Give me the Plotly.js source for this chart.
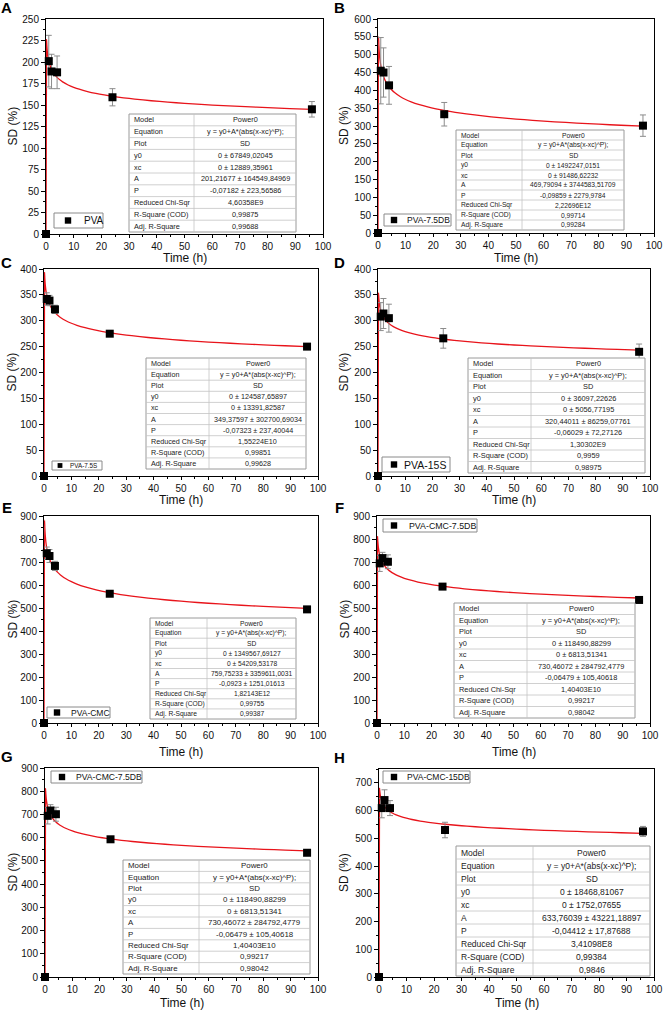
<!DOCTYPE html>
<html>
<head>
<meta charset="utf-8">
<script src="https://cdn.plot.ly/plotly-3.0.1.min.js"></script>
<style>html,body{margin:0;padding:0;background:#fff;}#chart{width:664px;height:1012px;}</style>
</head>
<body>
<div id="chart"></div>
<script>
// ---------------- DATA ----------------
const times = [0, 1, 2, 4, 24, 96];

const panelLetters = ["A", "B", "C", "D", "E", "F", "G", "H"];
const seriesNames = ["PVA", "PVA-7.5DB", "PVA-7.5S", "PVA-15S", "PVA-CMC", "PVA-CMC-7.5DB", "PVA-CMC-7.5DB", "PVA-CMC-15DB"];

const sdPVA = [0, 201, 189, 188, 159, 145];
const errPVA = [0, 30, 20, 19, 10, 9];
const sdPVA75DB = [0, 455, 450, 414, 333, 301];
const errPVA75DB = [0, 93, 69, 53, 33, 30];
const sdPVA75S = [0, 342, 339, 322, 275, 250];
const errPVA75S = [0, 12, 10, 8, 4, 4];
const sdPVA15S = [0, 308, 314, 305, 266, 240];
const errPVA15S = [0, 27, 29, 27, 19, 15];
const sdCMC = [0, 738, 726, 683, 562, 494];
const errCMC = [0, 27, 28, 20, 8, 5];
const sdCMC75DB = [0, 694, 717, 701, 593, 535];
const errCMC75DB = [0, 35, 25, 30, 12, 5];
const sdCMC15DB = [0, 609, 638, 609, 530, 525];
const errCMC15DB = [0, 35, 37, 27, 28, 18];

const sdSeries = [sdPVA, sdPVA75DB, sdPVA75S, sdPVA15S, sdCMC, sdCMC75DB, sdCMC75DB, sdCMC15DB];
const errSeries = [errPVA, errPVA75DB, errPVA75S, errPVA15S, errCMC, errCMC75DB, errCMC75DB, errCMC15DB];

// Power0 fit parameters from each panel's table (y0 = 0, xc = 0)
const fitA = [201.21677, 469.79094, 349.37597, 320.44011, 759.75233, 730.46072, 730.46072, 633.76039];
const fitP = [-0.07182, -0.09859, -0.07323, -0.06029, -0.0923, -0.06479, -0.06479, -0.04412];
const fitTimes = [0, 0.2, 0.3, 0.45, 0.7, 1, 1.5, 2, 3, 4, 5, 6, 8, 10, 12, 15, 18, 21, 24, 28, 32, 38, 44, 50, 56, 64, 72, 80, 88, 96];

const yMax = [250, 600, 400, 400, 900, 900, 900, 750];
const yStep = [25, 50, 50, 50, 100, 100, 100, 100];

const tableLabels = ["Model", "Equation", "Plot", "y0", "xc", "A", "P", "Reduced Chi-Sqr", "R-Square (COD)", "Adj. R-Square"];
const tableValues = [
  ["Power0", "y = y0+A*(abs(x-xc)^P);", "SD", "0 ± 67849,02045", "0 ± 12889,35961", "201,21677 ± 164549,84969", "-0,07182 ± 223,56586", "4,60358E9", "0,99875", "0,99688"],
  ["Power0", "y = y0+A*(abs(x-xc)^P);", "SD", "0 ± 1492247,0151", "0 ± 91486,62232", "469,79094 ± 3744583,51709", "-0,09859 ± 2279,9784", "2,22696E12", "0,99714", "0,99284"],
  ["Power0", "y = y0+A*(abs(x-xc)^P);", "SD", "0 ± 124587,65897", "0 ± 13391,82587", "349,37597 ± 302700,69034", "-0,07323 ± 237,40044", "1,55224E10", "0,99851", "0,99628"],
  ["Power0", "y = y0+A*(abs(x-xc)^P);", "SD", "0 ± 36097,22626", "0 ± 5056,77195", "320,44011 ± 86259,07761", "-0,06029 ± 72,27126", "1,30302E9", "0,9959", "0,98975"],
  ["Power0", "y = y0+A*(abs(x-xc)^P);", "SD", "0 ± 1349567,69127", "0 ± 54209,53178", "759,75233 ± 3359611,0031", "-0,0923 ± 1251,01613", "1,82143E12", "0,99755", "0,99387"],
  ["Power0", "y = y0+A*(abs(x-xc)^P);", "SD", "0 ± 118490,88299", "0 ± 6813,51341", "730,46072 ± 284792,4779", "-0,06479 ± 105,40618", "1,40403E10", "0,99217", "0,98042"],
  ["Power0", "y = y0+A*(abs(x-xc)^P);", "SD", "0 ± 118490,88299", "0 ± 6813,51341", "730,46072 ± 284792,4779", "-0,06479 ± 105,40618", "1,40403E10", "0,99217", "0,98042"],
  ["Power0", "y = y0+A*(abs(x-xc)^P);", "SD", "0 ± 18468,81067", "0 ± 1752,07655", "633,76039 ± 43221,18897", "-0,04412 ± 17,87688", "3,41098E8", "0,99384", "0,9846"]
];

// ---------------- GEOMETRY (pixels) ----------------
const W = 664, H = 1012;
const FONT = "Liberation Sans, Arial, sans-serif";
function fx(p) { return p / W; }
function fy(p) { return 1 - p / H; }

// plot frames: [left, right, top, bottom]
const frames = [
  [46, 323, 19, 234], [378, 654, 19, 233],
  [44, 318, 269, 476], [378, 650, 269, 476],
  [44, 318, 516, 723], [377, 650, 516, 723],
  [45, 318, 768, 977], [379, 654, 769, 977]
];
// tables: [left, right, top, bottom, divider, fontSize]
const tables = [
  [129, 296, 114, 232, 194, 7.3], [456, 624, 130, 230, 522, 6.7],
  [146, 306, 358, 469, 209, 7.2], [468, 645, 358, 473, 531, 7.4],
  [150, 296, 618, 719, 207, 6.7], [454, 635, 603, 718, 527, 7.4],
  [123, 310, 860, 974, 199, 7.9], [456, 650, 846, 976, 533, 8.5]
];
// legends: [left, right, top, bottom, markerCenterX, textStartX, fontSize]
const legends = [
  [54, 103, 213, 228, 68, 82, 10], [384, 451, 214, 226, 394, 405, 8.5],
  [52, 102, 461, 470, 60, 68, 6.3], [382, 450, 457, 472, 394, 402, 10.5],
  [47, 110, 707, 718, 57, 69, 8.5], [383, 477, 519, 532, 394, 407, 8.8],
  [51, 142, 771, 783, 62, 74, 8.6], [383, 470, 771, 783, 394, 405, 8.5]
];
const xTitleY = [258, 258, 500, 500, 752, 752, 1003, 1003];
const letterPos = [[7, 8], [339, 8], [7, 263], [339, 263], [7, 507], [339, 507], [7, 756], [339, 757]];

const data = [];
const layout = {
  width: W, height: H,
  margin: {l: 0, r: 0, t: 0, b: 0},
  paper_bgcolor: "#fff", plot_bgcolor: "#fff",
  showlegend: false,
  font: {family: FONT, color: "#111"},
  shapes: [], annotations: []
};

for (let i = 0; i < 8; i++) {
  const sfx = i === 0 ? "" : String(i + 1);
  const [l, r, t, b] = frames[i];
  const tickfont = {family: FONT, size: 10, color: "#111"};
  layout["xaxis" + sfx] = {
    domain: [fx(l), fx(r)], range: [0, 100], anchor: "y" + sfx,
    dtick: 10, tick0: 0, ticks: "outside", ticklen: 3, tickwidth: 1, tickcolor: "#000",
    minor: {ticks: "outside", ticklen: 2, dtick: 5, tickcolor: "#000"},
    showline: true, linecolor: "#000", linewidth: 1, mirror: true,
    showgrid: false, zeroline: false, tickfont: tickfont, fixedrange: true,
    ticklabeloverflow: "allow"
  };
  layout["yaxis" + sfx] = {
    domain: [fy(b), fy(t)], range: [0, yMax[i]], anchor: "x" + sfx,
    dtick: yStep[i], tick0: 0, ticks: "outside", ticklen: 4, tickwidth: 1, tickcolor: "#000",
    minor: {ticks: "outside", ticklen: 2, dtick: yStep[i] / 2, tickcolor: "#000"},
    showline: true, linecolor: "#000", linewidth: 1, mirror: true,
    showgrid: false, zeroline: false, tickfont: tickfont, fixedrange: true,
    ticklabeloverflow: "allow"
  };

  // fit curve
  const fitY = fitTimes.map(tm => tm === 0 ? 0 : fitA[i] * Math.pow(Math.abs(tm), fitP[i]));
  data.push({
    x: fitTimes, y: fitY, xaxis: "x" + sfx, yaxis: "y" + sfx,
    mode: "lines", line: {color: "#e8141b", width: 1.3, shape: "spline", smoothing: 0.6},
    showlegend: false, hoverinfo: "skip", cliponaxis: false
  });
  // data points
  data.push({
    x: times, y: sdSeries[i], xaxis: "x" + sfx, yaxis: "y" + sfx,
    name: seriesNames[i], showlegend: false,
    mode: "markers", type: "scatter", cliponaxis: false,
    marker: {symbol: "square", size: 8, color: "#000"},
    error_y: {type: "data", array: errSeries[i], visible: true, color: "#8c8c8c", thickness: 1, width: 3}
  });

  // axis titles
  layout.annotations.push({
    xref: "paper", yref: "paper", x: fx((l + r) / 2), y: fy(xTitleY[i]),
    xanchor: "center", yanchor: "middle", showarrow: false,
    text: "Time (h)", font: {family: FONT, size: 12, color: "#111"}
  });
  layout.annotations.push({
    xref: "paper", yref: "paper", x: fx(i % 2 === 0 ? 12 : 344), y: fy((t + b) / 2),
    xanchor: "center", yanchor: "middle", showarrow: false, textangle: -90,
    text: "SD (%)", font: {family: FONT, size: 12, color: "#111"}
  });
  // panel letter
  layout.annotations.push({
    xref: "paper", yref: "paper", x: fx(letterPos[i][0]), y: fy(letterPos[i][1]),
    xanchor: "center", yanchor: "middle", showarrow: false,
    text: "<b>" + panelLetters[i] + "</b>", font: {family: FONT, size: 15, color: "#000"}
  });

  // legend box (drawn by hand to match the small Origin legend)
  const [ll, lr, lt, lb, lm, ltx, lfs] = legends[i];
  const lmid = (lt + lb) / 2;
  const ms = lfs >= 8 ? 3.2 : 2.4;
  layout.shapes.push({
    type: "rect", xref: "paper", yref: "paper",
    x0: fx(ll), x1: fx(lr), y0: fy(lb), y1: fy(lt),
    fillcolor: "#fff", line: {color: "#8a8a8a", width: 1}, layer: "above"
  });
  layout.shapes.push({
    type: "rect", xref: "paper", yref: "paper",
    x0: fx(lm - ms), x1: fx(lm + ms), y0: fy(lmid + ms), y1: fy(lmid - ms),
    fillcolor: "#000", line: {color: "#000", width: 0}, layer: "above"
  });
  layout.annotations.push({
    xref: "paper", yref: "paper", x: fx(ltx), y: fy(lmid),
    xanchor: "left", yanchor: "middle", showarrow: false,
    text: seriesNames[i], font: {family: FONT, size: lfs, color: "#111"}
  });

  // table
  const [tl, tr, tt, tb, td, tfs] = tables[i];
  const nRows = tableLabels.length;
  const rh = (tb - tt) / nRows;
  layout.shapes.push({
    type: "rect", xref: "paper", yref: "paper",
    x0: fx(tl), x1: fx(tr), y0: fy(tb), y1: fy(tt),
    fillcolor: "#fff", line: {color: "#9a9a9a", width: 1}, layer: "above"
  });
  for (let k = 1; k < nRows; k++) {
    layout.shapes.push({
      type: "line", xref: "paper", yref: "paper",
      x0: fx(tl), x1: fx(tr), y0: fy(tt + k * rh), y1: fy(tt + k * rh),
      line: {color: "#c4c4c4", width: 0.8}, layer: "above"
    });
  }
  layout.shapes.push({
    type: "line", xref: "paper", yref: "paper",
    x0: fx(td), x1: fx(td), y0: fy(tb), y1: fy(tt),
    line: {color: "#c4c4c4", width: 0.8}, layer: "above"
  });
  for (let k = 0; k < nRows; k++) {
    const yc = fy(tt + (k + 0.5) * rh);
    layout.annotations.push({
      xref: "paper", yref: "paper", x: fx(tl + 3), y: yc,
      xanchor: "left", yanchor: "middle", showarrow: false,
      text: tableLabels[k], font: {family: FONT, size: tfs, color: "#222"}
    });
    layout.annotations.push({
      xref: "paper", yref: "paper", x: fx((td + tr) / 2), y: yc,
      xanchor: "center", yanchor: "middle", showarrow: false,
      text: tableValues[i][k], font: {family: FONT, size: tfs, color: "#222"}
    });
  }
}

Plotly.newPlot("chart", data, layout, {staticPlot: true, displayModeBar: false});
</script>
</body>
</html>
